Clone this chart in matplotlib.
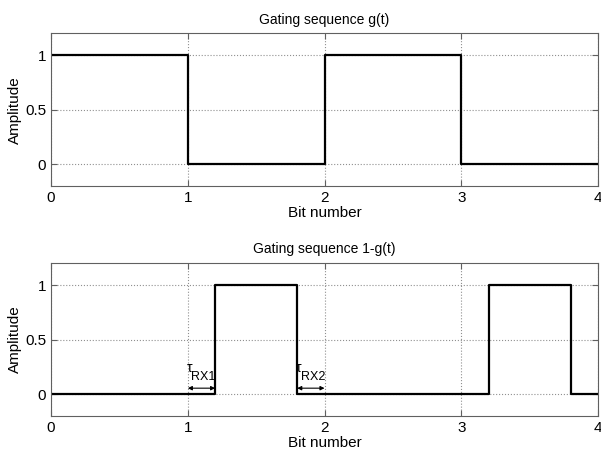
import matplotlib.pyplot as plt

plt.rcParams['font.family'] = ['Liberation Sans', 'DejaVu Sans']

# == dados ==
t_g = [0, 1, 2, 3, 4]
g = [1, 0, 1, 0, 0]

t_ng = [0, 1.2, 1.8, 3.2, 3.8, 4]
ng = [0, 1, 0, 1, 0, 0]

xticks = [0, 1, 2, 3, 4]
yticks = [0, 0.5, 1]

# intervalos de guarda (inicio, fim, rotulo)
taus = [(1.0, 1.2, 'RX1'),
        (1.8, 2.0, 'RX2')]

fig = plt.figure(figsize=(6.01, 4.63), dpi=100)
ax1 = fig.add_axes([0.085, 0.598, 0.910, 0.330])
ax2 = fig.add_axes([0.085, 0.1015, 0.910, 0.330])


def estilo(ax, titulo):
    ax.set_xlim(0, 4)
    ax.set_ylim(-0.2, 1.2)
    ax.set_xticks(xticks)
    ax.set_yticks(yticks)
    ax.set_yticklabels(['0', '0.5', '1'])
    ax.grid(True, linestyle=':', color='#909090', linewidth=0.8)
    ax.tick_params(direction='in', top=True, right=True, labelsize=11, length=4,
                   color='#606060')
    for s in ax.spines.values():
        s.set_color('#606060')
    ax.set_xlabel('Bit number', fontsize=11, labelpad=1)
    ax.set_ylabel('Amplitude', fontsize=11, labelpad=2)
    ax.set_title(titulo, fontsize=10, pad=7)


ax1.step(t_g, g, where='post', color='black', linewidth=1.6)
estilo(ax1, 'Gating sequence g(t)')

ax2.step(t_ng, ng, where='post', color='black', linewidth=1.6)
estilo(ax2, 'Gating sequence 1-g(t)')

for a, b, rot in taus:
    ax2.annotate('', xy=(b, 0.055), xytext=(a, 0.055),
                 arrowprops=dict(arrowstyle='<|-|>', color='black', lw=0.8,
                                 mutation_scale=6, shrinkA=0, shrinkB=0))
    ax2.text(a - 0.01, 0.18, 'τ', fontsize=10, ha='left', va='bottom')
    ax2.text(a + 0.025, 0.10, rot, fontsize=9, ha='left', va='bottom')

fig.savefig('out.png', dpi=100)
